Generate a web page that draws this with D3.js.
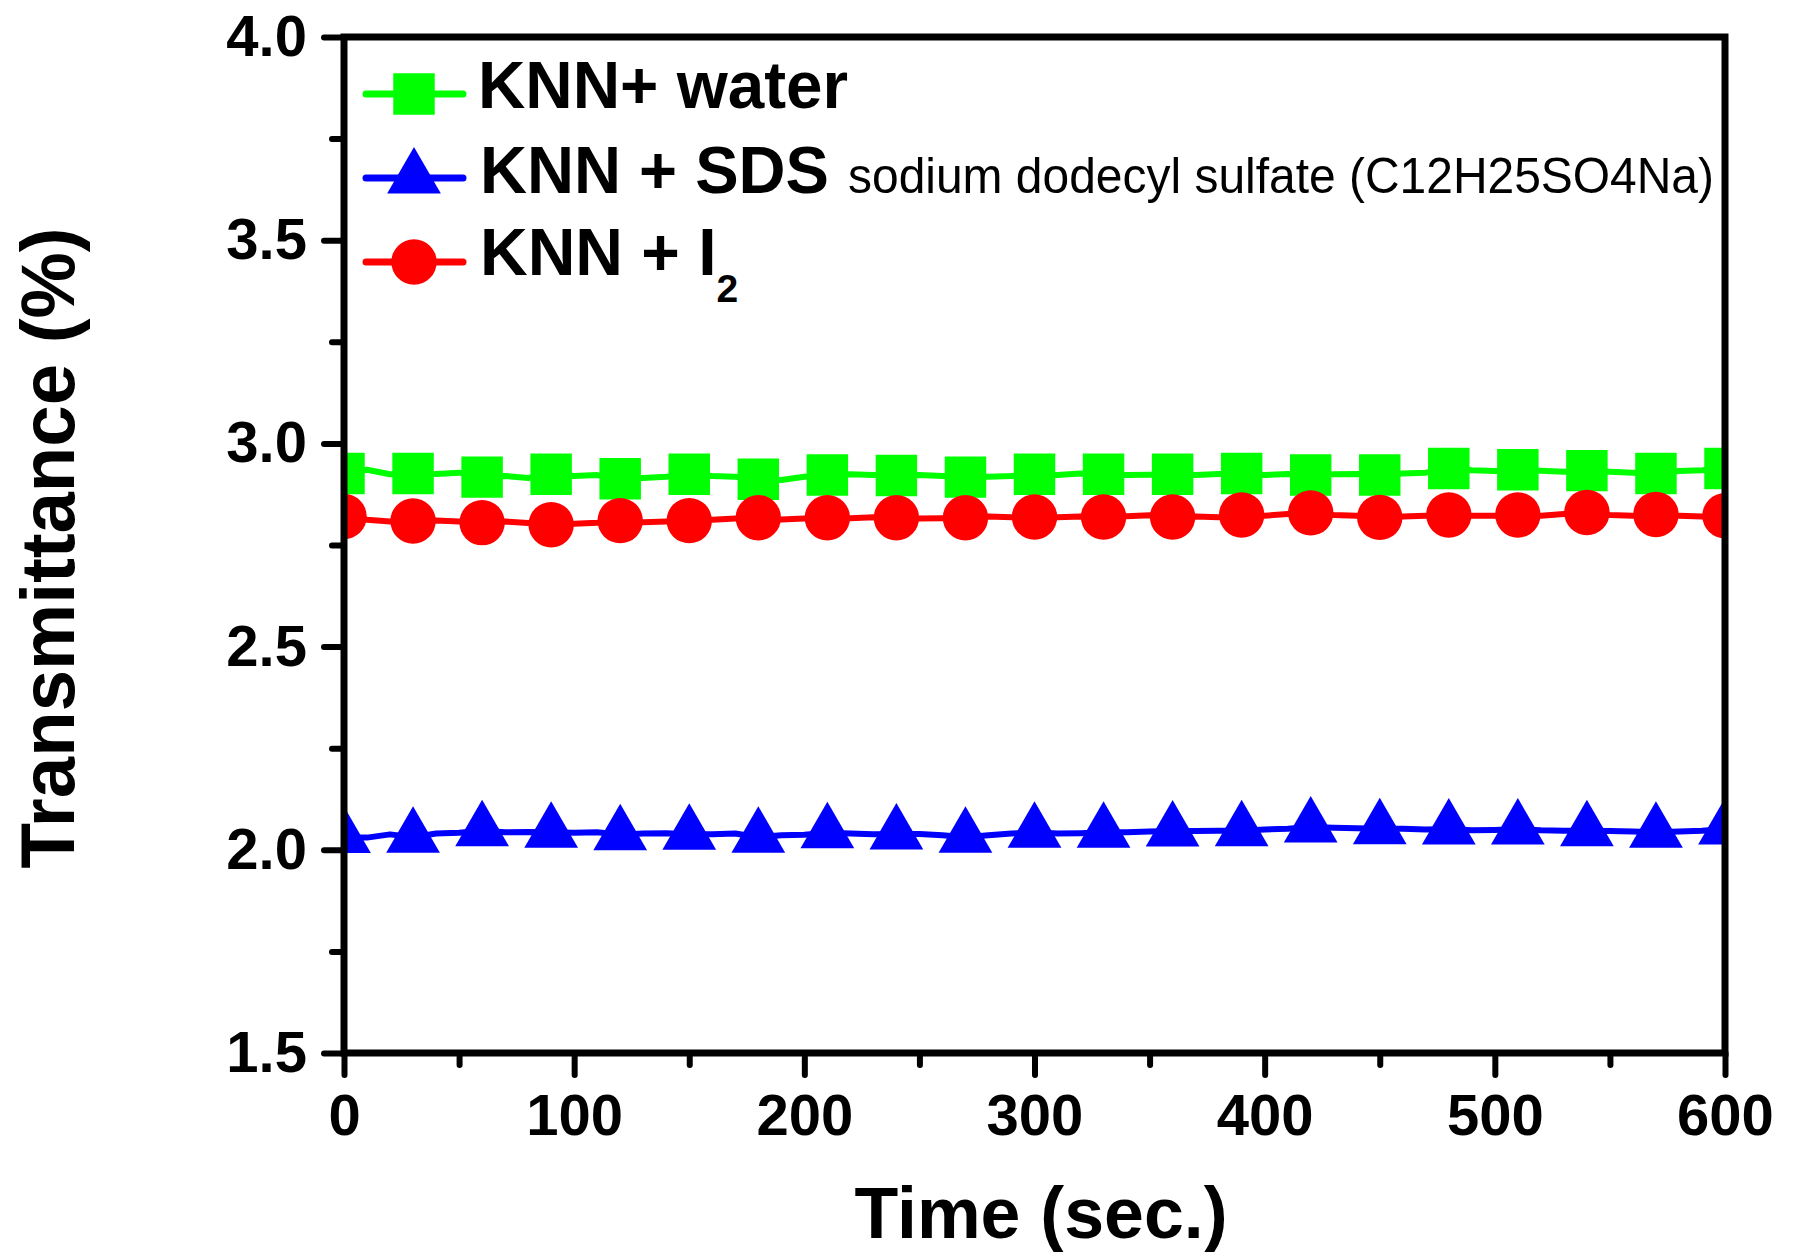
<!DOCTYPE html>
<html>
<head>
<meta charset="utf-8">
<title>Transmittance vs Time</title>
<script src="https://d3js.org/d3.v7.min.js"></script>
<style>
    body { margin: 0; background: #fff; overflow: hidden; }
    svg { display: block; font-family: "Liberation Sans", Arial, sans-serif; }
    .axis text { font-weight: bold; font-size: 58px; fill: #000; }
    .axis line { stroke: #000; stroke-width: 6px; stroke-linecap: round; }
</style>
</head>
<body>
<div id="chart"></div>
<script>
// time in seconds, sampled every 10 s; markers every 30 s
const times = d3.range(0, 601, 10);

const water = [2.926, 2.935, 2.924, 2.926, 2.925, 2.928, 2.917, 2.920, 2.915, 2.924,
    2.920, 2.922, 2.913, 2.915, 2.918, 2.924, 2.920, 2.918, 2.912, 2.910,
    2.918, 2.922, 2.924, 2.922, 2.921, 2.922, 2.920, 2.917, 2.918, 2.920,
    2.924, 2.922, 2.926, 2.924, 2.922, 2.923, 2.924, 2.922, 2.925, 2.926,
    2.922, 2.925, 2.922, 2.924, 2.925, 2.922, 2.926, 2.928, 2.938, 2.934,
    2.932, 2.935, 2.933, 2.930, 2.933, 2.930, 2.928, 2.926, 2.932, 2.934, 2.938];

const sds = [2.030, 2.030, 2.038, 2.031, 2.040, 2.042, 2.047, 2.043, 2.044, 2.043,
    2.042, 2.043, 2.037, 2.040, 2.041, 2.038, 2.038, 2.040, 2.031, 2.036,
    2.037, 2.042, 2.040, 2.038, 2.039, 2.039, 2.036, 2.031, 2.036, 2.040,
    2.043, 2.040, 2.041, 2.043, 2.043, 2.045, 2.046, 2.046, 2.047, 2.047,
    2.050, 2.052, 2.056, 2.054, 2.053, 2.052, 2.052, 2.050, 2.051, 2.048,
    2.049, 2.051, 2.048, 2.047, 2.047, 2.046, 2.045, 2.043, 2.045, 2.047, 2.051];

const iodine = [2.820, 2.812, 2.808, 2.809, 2.810, 2.808, 2.805, 2.808, 2.804, 2.800,
    2.802, 2.805, 2.810, 2.806, 2.808, 2.810, 2.812, 2.815, 2.817, 2.813,
    2.815, 2.817, 2.816, 2.818, 2.817, 2.815, 2.816, 2.817, 2.820, 2.818,
    2.819, 2.818, 2.820, 2.819, 2.821, 2.823, 2.819, 2.820, 2.818, 2.824,
    2.822, 2.826, 2.829, 2.824, 2.822, 2.818, 2.820, 2.822, 2.824, 2.822,
    2.822, 2.824, 2.822, 2.826, 2.830, 2.824, 2.822, 2.825, 2.822, 2.820, 2.822];

const xTicks = [0, 100, 200, 300, 400, 500, 600];
const xMinor = [50, 150, 250, 350, 450, 550];
const yTicks = [1.5, 2.0, 2.5, 3.0, 3.5, 4.0];
const yMinor = [1.75, 2.25, 2.75, 3.25, 3.75];

const series = [
    { name: "water", values: water, color: "#00ff00", symbol: d3.symbolSquare, size: 1720 },
    { name: "sds", values: sds, color: "#0000ff", symbol: d3.symbolTriangle, size: 1250 },
    { name: "iodine", values: iodine, color: "#ff0000", symbol: d3.symbolCircle, size: 1620 }
];

const width = 1793, height = 1252;
const margin = { top: 37, right: 68, bottom: 199, left: 344 };
const w = width - margin.left - margin.right;
const h = height - margin.top - margin.bottom;

const svg = d3.select("#chart").append("svg")
    .attr("width", width)
    .attr("height", height);

const g = svg.append("g").attr("transform", `translate(${margin.left},${margin.top})`);

const x = d3.scaleLinear().domain([0, 600]).range([0, w]);
const y = d3.scaleLinear().domain([1.5, 4.0]).range([h, 0]);

svg.append("defs").append("clipPath").attr("id", "plot")
    .append("rect").attr("width", w).attr("height", h);

// minor ticks
g.append("g").attr("class", "axis").attr("transform", `translate(0,${h})`)
    .call(d3.axisBottom(x).tickValues(xMinor).tickSize(12).tickFormat(""))
    .call(a => a.select(".domain").remove());
g.append("g").attr("class", "axis")
    .call(d3.axisLeft(y).tickValues(yMinor).tickSize(12).tickFormat(""))
    .call(a => a.select(".domain").remove());

// major ticks
g.append("g").attr("class", "axis").attr("transform", `translate(0,${h})`)
    .call(d3.axisBottom(x).tickValues(xTicks).tickSize(22).tickPadding(19).tickFormat(d3.format("d")))
    .call(a => a.select(".domain").remove());
g.append("g").attr("class", "axis")
    .call(d3.axisLeft(y).tickValues(yTicks).tickSize(20).tickPadding(17).tickFormat(d3.format(".1f")))
    .call(a => a.select(".domain").remove());

const line = d3.line()
    .x((d, i) => x(times[i]))
    .y(d => y(d));

const plot = g.append("g").attr("clip-path", "url(#plot)");

series.forEach(s => {
    plot.append("path")
        .datum(s.values)
        .attr("fill", "none")
        .attr("stroke", s.color)
        .attr("stroke-width", 6)
        .attr("stroke-linejoin", "round")
        .attr("d", line);
});

series.forEach(s => {
    const pts = s.values.map((v, i) => ({ t: times[i], v })).filter(d => d.t % 30 === 0);
    plot.selectAll(null)
        .data(pts)
        .enter().append("path")
        .attr("transform", d => `translate(${x(d.t)},${y(d.v)})`)
        .attr("d", d3.symbol().type(s.symbol).size(s.size))
        .attr("fill", s.color);
});

// frame
g.append("rect")
    .attr("width", w)
    .attr("height", h)
    .attr("fill", "none")
    .attr("stroke", "#000")
    .attr("stroke-width", 7);

// axis titles
svg.append("text")
    .attr("x", 1041)
    .attr("y", 1238)
    .attr("text-anchor", "middle")
    .attr("font-weight", "bold")
    .attr("font-size", 73)
    .attr("textLength", 373)
    .attr("lengthAdjust", "spacingAndGlyphs")
    .text("Time (sec.)");

svg.append("text")
    .attr("transform", "translate(74,548) rotate(-90)")
    .attr("text-anchor", "middle")
    .attr("font-weight", "bold")
    .attr("font-size", 76)
    .attr("textLength", 641)
    .attr("lengthAdjust", "spacingAndGlyphs")
    .text("Transmittance (%)");

// legend
const legendRows = [
    { s: series[0], y: 94 },
    { s: series[1], y: 178 },
    { s: series[2], y: 262 }
];
const legend = svg.append("g");
legendRows.forEach(r => {
    legend.append("line")
        .attr("x1", 366).attr("x2", 463)
        .attr("y1", r.y).attr("y2", r.y)
        .attr("stroke", r.s.color)
        .attr("stroke-width", 7)
        .attr("stroke-linecap", "round");
    legend.append("path")
        .attr("transform", `translate(414,${r.y})`)
        .attr("d", d3.symbol().type(r.s.symbol).size(r.s.size))
        .attr("fill", r.s.color);
});

legend.append("text")
    .attr("x", 478).attr("y", 108)
    .attr("font-weight", "bold").attr("font-size", 66)
    .attr("textLength", 370).attr("lengthAdjust", "spacingAndGlyphs")
    .text("KNN+ water");

legend.append("text")
    .attr("x", 480).attr("y", 193)
    .attr("font-weight", "bold").attr("font-size", 66)
    .attr("textLength", 349).attr("lengthAdjust", "spacingAndGlyphs")
    .text("KNN + SDS");

legend.append("text")
    .attr("x", 848).attr("y", 193)
    .attr("font-size", 50)
    .attr("textLength", 866).attr("lengthAdjust", "spacingAndGlyphs")
    .text("sodium dodecyl sulfate (C12H25SO4Na)");

const i2 = legend.append("text")
    .attr("x", 480).attr("y", 275)
    .attr("font-weight", "bold").attr("font-size", 66);
i2.append("tspan").text("KNN + I");
i2.append("tspan").attr("font-size", 39).attr("dy", 27).text("2");
</script>
</body>
</html>
